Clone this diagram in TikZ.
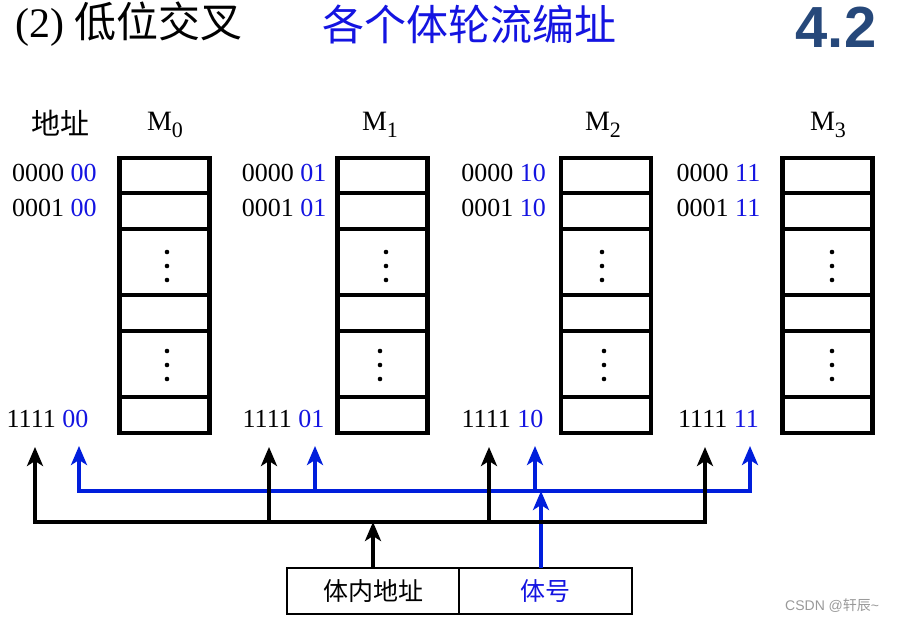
\documentclass[tikz,border=0pt]{standalone}
\usepackage{fontspec}
\setmainfont{Liberation Serif}
\newfontfamily\cjk{Noto Sans CJK SC}
\newfontfamily\arialfont{Liberation Sans}
\usetikzlibrary{arrows.meta,calc}
\definecolor{bl}{RGB}{20,20,225}
\definecolor{busblue}{RGB}{0,30,220}
\definecolor{secnum}{RGB}{38,72,122}
\tikzset{
  cell/.style={draw=black,line width=4.2pt,inner sep=0pt,minimum width=90pt},
  lbl/.style={inner sep=0pt,font=\fontsize{26}{26}\selectfont},
  hdr/.style={inner sep=0pt,font=\fontsize{28}{28}\selectfont},
  bk/.style={draw=black,line width=4.6pt,line cap=butt,-{Stealth[length=19pt,width=16pt,inset=5pt]}},
  bb/.style={draw=busblue,line width=4.6pt,line cap=butt,-{Stealth[length=19pt,width=16pt,inset=5pt]}},
  fieldbox/.style={draw=black,line width=2.8pt,inner sep=0pt,minimum height=46pt,font=\cjk\fontsize{25}{25}\selectfont}
}
\begin{document}
\begin{tikzpicture}[x=1pt,y=-1pt]
\useasboundingbox (0,0) rectangle (897,621);
% title
\node[anchor=west,inner sep=0pt,font=\fontsize{42}{42}\selectfont] (title) at (15,24) {(2) {\cjk 低位交叉}};
\node[anchor=west,inner sep=0pt,text=bl,font=\cjk\fontsize{42}{42}\selectfont] (subtitle) at (322,24) {各个体轮流编址};
\node[inner sep=0pt,text=secnum,font=\arialfont\bfseries\fontsize{58}{58}\selectfont] (sec) at (836,27) {4.2};
% headers
\node[hdr,font=\cjk\fontsize{29}{29}\selectfont] (addrhdr) at (60,123) {地址};
\foreach \i/\hx in {0/165,1/380,2/603,3/828}{
  \node[hdr] (M\i) at (\hx,125) {M\raisebox{-0.25em}{\fontsize{22}{22}\selectfont\i}};
}
% memory banks
\foreach \i/\cx in {0/164.5,1/382.5,2/606,3/827.5}{
  \foreach \r/\cy/\h in {1/175.5/35,2/211/36,3/262/66,4/313/36,5/364/66,6/415/36}{
    \node[cell,minimum height=\h pt] (b\i r\r) at (\cx,\cy) {};
  }
}
% dots
\foreach \dx/\dy in {167/266,167/365,386/266,380/365,602/266,604/365,832/266,832/365}{
  \foreach \o in {-14,0,14}{
    \fill (\dx,\dy+\o) circle (2.3pt);
  }
}
% address labels
\foreach \i/\xa/\xb/\suf in {0/54.5/47.5/00,1/284/283.5/01,2/503.5/502.5/10,3/718.5/718.5/11}{
  \node[lbl] (l\i a) at (\xa,173) {0000 \textcolor{bl}{\suf}};
  \node[lbl] (l\i b) at (\xa,208) {0001 \textcolor{bl}{\suf}};
  \node[lbl] (l\i c) at (\xb,419) {1111 \textcolor{bl}{\suf}};
}
% address register
\node[fieldbox,minimum width=172pt] (inner) at (373,591) {体内地址};
\node[fieldbox,minimum width=173pt,text=bl] (bank) at (545.5,591) {体号};
% bus coordinates
\coordinate (kt0) at (35,447);  \coordinate (kt1) at (269,447);
\coordinate (kt2) at (489,447); \coordinate (kt3) at (705,447);
\coordinate (ut0) at (79,446);  \coordinate (ut1) at (315,446);
\coordinate (ut2) at (535,446); \coordinate (ut3) at (750,446);
\coordinate (kbus0) at (35,522); \coordinate (kbus3) at (705,522);
\coordinate (kbus1) at (269,522); \coordinate (kbus2) at (489,522);
\coordinate (ubus0) at (79,491); \coordinate (ubus3) at (750,491);
\coordinate (ubus1) at (315,491); \coordinate (ubus2) at (535,491);
\coordinate (kin) at (373,522);
\coordinate (bsrc) at (541,568); \coordinate (uin) at (541,491);
% blue bus
\draw[bb,{Stealth[length=19pt,width=16pt,inset=5pt]}-{Stealth[length=19pt,width=16pt,inset=5pt]},line join=miter] (ut0) -- (ubus0) -- (ubus3) -- (ut3);
\draw[bb] (ubus1) -- (ut1);
\draw[bb] (ubus2) -- (ut2);
\draw[bb] (bsrc) -- (uin);
% black bus
\draw[bk,{Stealth[length=19pt,width=16pt,inset=5pt]}-{Stealth[length=19pt,width=16pt,inset=5pt]},line join=miter] (kt0) -- (kbus0) -- (kbus3) -- (kt3);
\draw[bk] (kbus1) -- (kt1);
\draw[bk] (kbus2) -- (kt2);
\draw[bk] (inner.north) -- (kin);
% watermark
\node[anchor=west,inner sep=0pt,text=black!40,font=\arialfont\fontsize{14}{14}\selectfont] (wm) at (785,606) {CSDN @{\cjk 轩辰}\textasciitilde};
\end{tikzpicture}
\end{document}
